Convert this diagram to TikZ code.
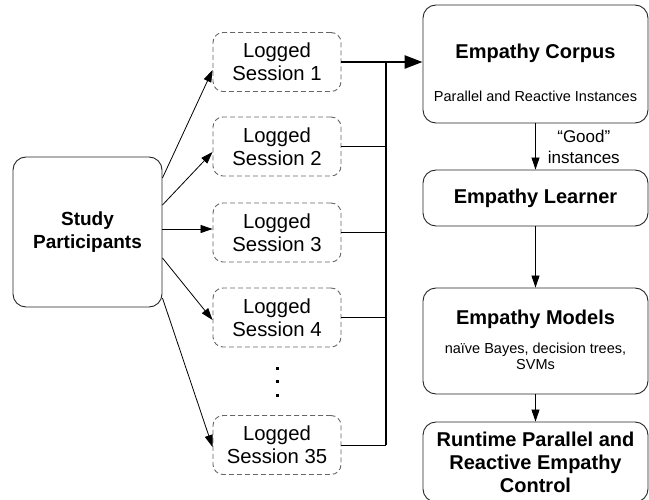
\documentclass[tikz,border=0pt]{standalone}
\usepackage{fontspec}
\setmainfont{Liberation Sans}
\usetikzlibrary{positioning, arrows.meta}

\begin{document}
\begin{tikzpicture}[x=1pt, y=-1pt,
    box/.style={draw=black!85, line width=0.9pt, rounded corners=13pt, align=center,
                minimum width=225pt, inner sep=0pt},
    logbox/.style={draw=black!60, dash pattern=on 5pt off 3pt, line width=0.9pt,
                   rounded corners=10pt, minimum width=128pt, minimum height=59pt,
                   align=center, inner sep=0pt, font=\fontsize{20.3}{23}\selectfont},
    title/.style={font=\bfseries\fontsize{20}{23}\selectfont, align=center, inner sep=0pt},
    small/.style={font=\fontsize{14.5}{16}\selectfont, align=center, inner sep=0pt},
    arrow/.style={-{Triangle[length=12pt,width=8pt]}, line width=0.8pt},
    bus/.style={line width=2.6pt}]
        \useasboundingbox (0,0) rectangle (649,500);

        % left side
        \node[box, minimum width=149pt, minimum height=150pt,
              font=\bfseries\fontsize{19}{23}\selectfont] (sp) at (87.5,232) {Study\\Participants};

        \node[logbox] (s1)  at (277,62)    {Logged\\Session 1};
        \node[logbox] (s2)  at (277,146.5) {Logged\\Session 2};
        \node[logbox] (s3)  at (277,232.5) {Logged\\Session 3};
        \node[logbox] (s4)  at (277,317.5) {Logged\\Session 4};
        \foreach \y in {368, 381.5, 395}
            \fill (275.5,\y-1.5) rectangle (278.5,\y+1.5);
        \node[logbox] (s35) at (277,445)   {Logged\\Session 35};

        % right side
        \node[box, minimum height=118pt] (corpus) at (535.5,64) {};
        \node[title, anchor=base] (corpusT) at (535.5,59) {Empathy Corpus};
        \node[small, anchor=base] (corpusS) at (535.5,102) {Parallel and Reactive Instances};

        \node[box, minimum height=56pt, font=\bfseries\fontsize{20}{23}\selectfont] (learner) at (535.5,198) {Empathy Learner};

        \node[box, minimum height=106pt] (models) at (535.5,341) {};
        \node[title, anchor=base] (modelsT) at (535.5,325) {Empathy Models};
        \node[small, anchor=base] (modelsS) at (535.5,370) {na\"ive Bayes, decision trees,\\SVMs};

        \node[box, minimum height=80pt, font=\bfseries\fontsize{20}{23}\selectfont] (runtime) at (535.5,462)
              {Runtime Parallel and\\Reactive Empathy\\Control};

        % study participants to sessions
        \draw[arrow] ([yshift=54pt]sp.east)  -- ([yshift=-8pt]s1.west);
        \draw[arrow] ([yshift=27pt]sp.east)  -- ([yshift=-5.5pt]s2.west);
        \draw[arrow] ([yshift=3pt]sp.east)   -- ([yshift=3.5pt]s3.west);
        \draw[arrow] ([yshift=-26pt]sp.east) -- ([yshift=-2.5pt]s4.west);
        \draw[arrow] ([yshift=-66pt]sp.east) -- ([yshift=-2pt]s35.west);

        % sessions to corpus
        \coordinate (busx) at (386,0);
        \draw[bus] (s1.east -| busx) -- (s35.east -| busx);
        \draw[bus, -{Triangle[length=18pt,width=13pt]}] (s1.east) -- (s1.east -| corpus.west);
        \foreach \s in {s2, s3, s4, s35}
            \draw[line width=0.9pt] (\s.east) -- (\s.east -| busx);

        % pipeline
        \draw[arrow] (corpus) -- node[small, right=12pt, font=\fontsize{17}{21}\selectfont] (good) {``Good''\\instances} (learner);
        \draw[arrow] (learner) -- (models);
        \draw[arrow] (models) -- (runtime);
\end{tikzpicture}
\end{document}
